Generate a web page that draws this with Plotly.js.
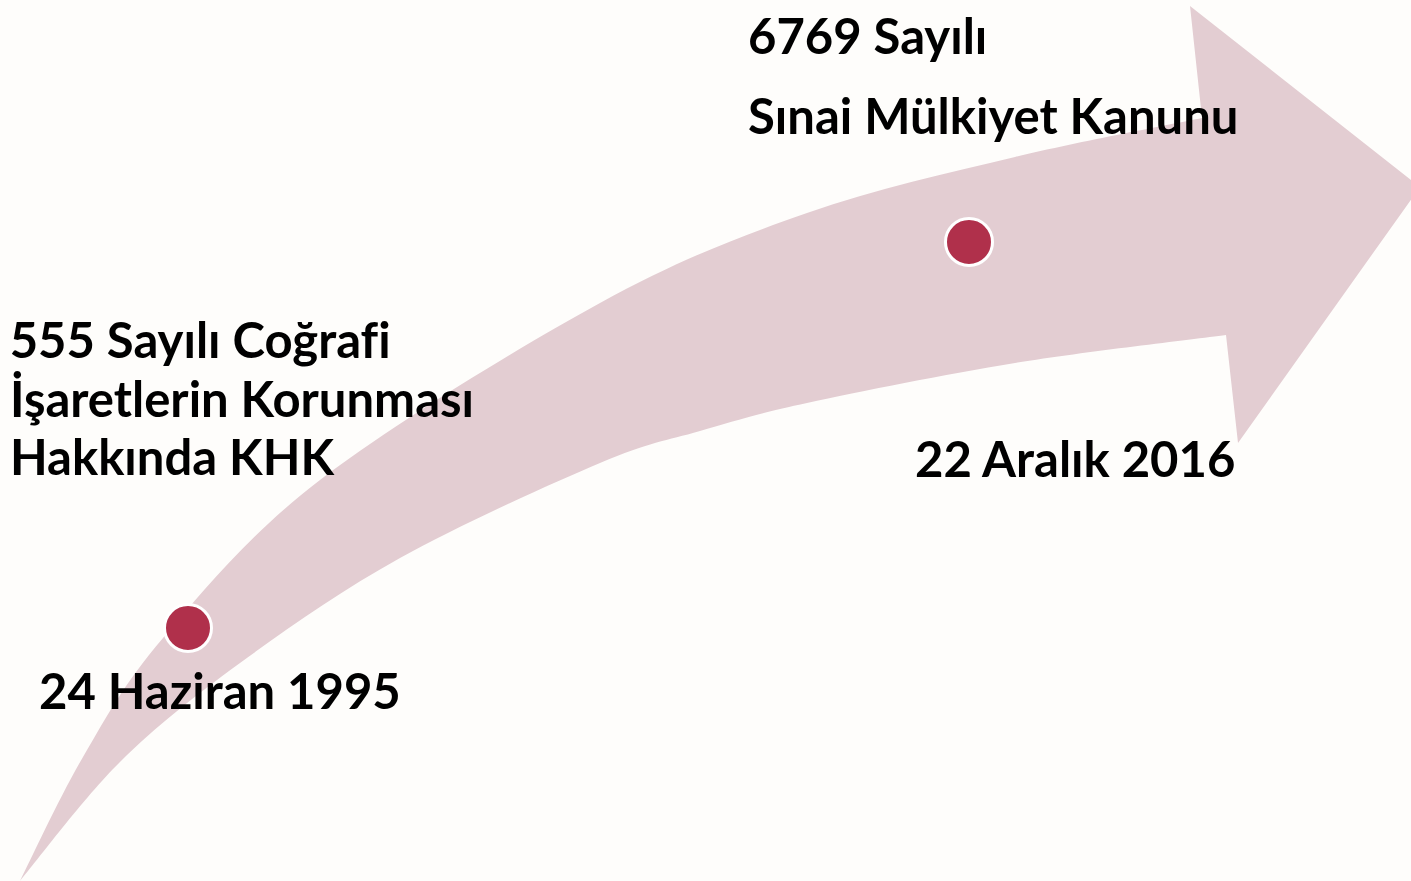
<!DOCTYPE html>
<html>
<head>
<meta charset="utf-8">
<script src="https://cdn.plot.ly/plotly-3.0.1.min.js"></script>
<style>
  html, body { margin: 0; padding: 0; background: #fefdfb; }
  #chart { width: 1411px; height: 881px; }
  #chart text { font-variant-ligatures: none; font-feature-settings: "liga" 0, "clig" 0; }
</style>
</head>
<body>
<div id="chart"></div>
<script>
// ---- data ----
const eventDates = ["24 Haziran 1995", "22 Aralık 2016"];
const eventTitleLines = [
  ["555 Sayılı Coğrafi", "İşaretlerin Korunması", "Hakkında KHK"],
  ["6769 Sayılı", "Sınai Mülkiyet Kanunu"]
];

// ---- layout geometry (pixel space of the slide) ----
const W = 1411, H = 881;
const dotPos = [[188, 628], [969, 242]];
const dateLabelPos = [[37, 690], [913, 458]];
const titleLinePos = [
  [[8, 339], [8, 398], [8, 456]],
  [[746, 35], [746, 115]]
];

const upperEdge = [[20, 881], [83, 757], [163, 638], [320, 480], [600, 303], [807, 213], [1015, 157], [1202, 118]];
const lowerEdge = [[20, 881], [120, 762], [240, 663], [400, 558], [600, 463], [700, 431], [807, 403], [1015, 363], [1226, 335]];
const head = [[1190, 6], [1420, 187], [1238, 443]];

function catmull(pts) {
  let s = "";
  for (let i = 0; i < pts.length - 1; i++) {
    const p0 = pts[Math.max(i - 1, 0)], p1 = pts[i], p2 = pts[i + 1], p3 = pts[Math.min(i + 2, pts.length - 1)];
    const c1 = [p1[0] + (p2[0] - p0[0]) / 6, p1[1] + (p2[1] - p0[1]) / 6];
    const c2 = [p2[0] - (p3[0] - p1[0]) / 6, p2[1] - (p3[1] - p1[1]) / 6];
    s += ` C ${c1[0].toFixed(1)},${c1[1].toFixed(1)} ${c2[0].toFixed(1)},${c2[1].toFixed(1)} ${p2[0]},${p2[1]}`;
  }
  return s;
}

let path = `M ${upperEdge[0][0]},${upperEdge[0][1]}` + catmull(upperEdge);
head.forEach(p => { path += ` L ${p[0]},${p[1]}`; });
const lowRev = lowerEdge.slice().reverse();
path += ` L ${lowRev[0][0]},${lowRev[0][1]}` + catmull(lowRev) + " Z";

const FONT = "Lato, 'Open Sans', sans-serif";
const FSIZE = 49;

const annotations = [];
eventDates.forEach((d, i) => {
  annotations.push({
    x: dateLabelPos[i][0], y: dateLabelPos[i][1], xref: "x", yref: "y",
    text: d, showarrow: false, xanchor: "left", yanchor: "middle",
    font: { family: FONT, size: FSIZE, color: "#000000", weight: 700 }
  });
});
eventTitleLines.forEach((lines, i) => {
  lines.forEach((t, j) => {
    annotations.push({
      x: titleLinePos[i][j][0], y: titleLinePos[i][j][1], xref: "x", yref: "y",
      text: t, showarrow: false, xanchor: "left", yanchor: "middle",
      font: { family: FONT, size: FSIZE, color: "#000000", weight: 700 }
    });
  });
});

const trace = {
  type: "scatter", mode: "markers",
  x: dotPos.map(p => p[0]), y: dotPos.map(p => p[1]),
  text: eventDates, hoverinfo: "text",
  marker: { size: 47, color: "#b0304b", line: { color: "#ffffff", width: 3 } },
  showlegend: false, cliponaxis: false
};

const layout = {
  width: W, height: H,
  margin: { l: 0, r: 0, t: 0, b: 0 },
  paper_bgcolor: "#fefdfb", plot_bgcolor: "#fefdfb",
  xaxis: { range: [0, W], visible: false, fixedrange: true },
  yaxis: { range: [H, 0], visible: false, fixedrange: true },
  shapes: [{ type: "path", xref: "x", yref: "y", path: path, fillcolor: "#e3cdd2", line: { width: 0 }, layer: "below" }],
  annotations: annotations,
  showlegend: false
};

Plotly.newPlot("chart", [trace], layout, { displayModeBar: false, staticPlot: true });
</script>
</body>
</html>
